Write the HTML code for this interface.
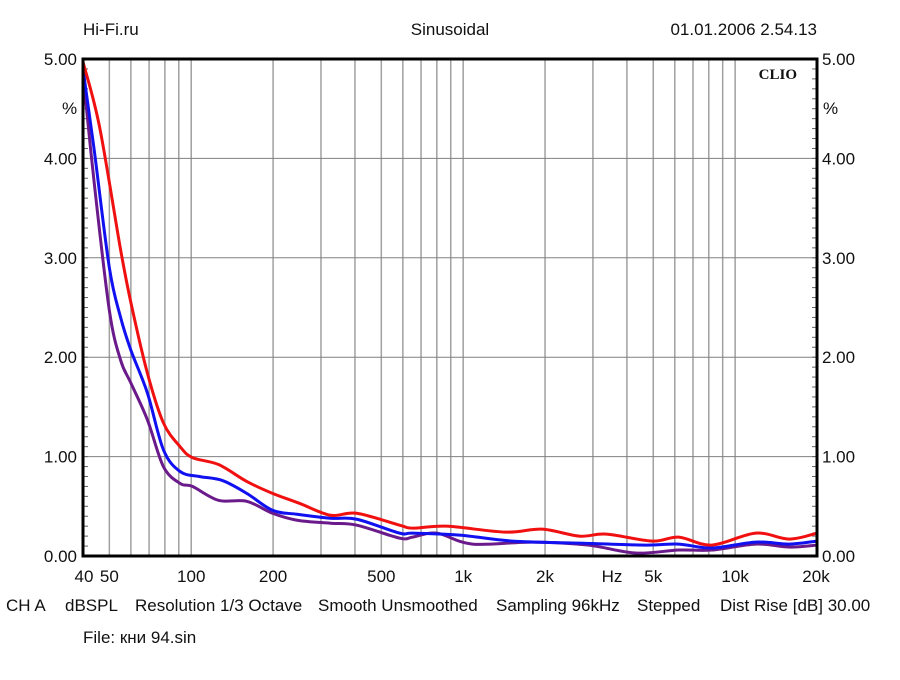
<!DOCTYPE html>
<html><head><meta charset="utf-8"><style>
body{margin:0;background:#fff;}
svg text{font-family:"Liberation Sans",sans-serif;font-size:17px;fill:#111;}
</style></head><body>
<svg id="chart" width="900" height="675" xmlns="http://www.w3.org/2000/svg">
<rect width="900" height="675" fill="#fff"/>
<g id="grid"></g>
<g id="curves"></g>
<rect x="83" y="59" width="734" height="497" fill="none" stroke="#000" stroke-width="3"/>
<g id="labels"></g>
<text x="83" y="35">Hi-Fi.ru</text>
<text x="450" y="35" text-anchor="middle">Sinusoidal</text>
<text x="817" y="35" text-anchor="end">01.01.2006 2.54.13</text>
<text x="797" y="79" text-anchor="end" style="font-family:'Liberation Serif',serif;font-weight:bold;font-size:15px">CLIO</text>
<text x="62" y="114">%</text>
<text x="823" y="114">%</text>
<text x="612" y="582" text-anchor="middle">Hz</text>
<text x="6" y="611">CH A</text>
<text x="65" y="611">dBSPL</text>
<text x="135" y="611">Resolution 1/3 Octave</text>
<text x="318" y="611">Smooth Unsmoothed</text>
<text x="496" y="611">Sampling 96kHz</text>
<text x="637" y="611">Stepped</text>
<text x="720" y="611">Dist Rise [dB] 30.00</text>
<text x="83" y="643">File: кни 94.sin</text>
</svg>
<script>
const yTicks=[0,1,2,3,4,5];
const yTickLabels=["0.00","1.00","2.00","3.00","4.00","5.00"];
const xTicks=[40,50,100,200,500,1000,2000,5000,10000,20000];
const xTickLabels=["40","50","100","200","500","1k","2k","5k","10k","20k"];
const redFreq=[40,46,55,60,69,79,91,101,126,160,199,250,325,406,584,652,867,1430,1950,2670,3360,4960,6200,8200,11900,15800,20000];
const redVal=[4.97,4.32,3.08,2.55,1.84,1.34,1.10,0.99,0.92,0.75,0.63,0.53,0.41,0.43,0.31,0.28,0.30,0.24,0.27,0.20,0.22,0.15,0.19,0.11,0.23,0.17,0.23];
const blueFreq=[40,44,50,55,60,69,79,91,107,130,160,199,245,325,406,584,652,970,1520,2670,4700,6200,8200,11900,15800,20000];
const blueVal=[4.9,4.08,2.9,2.4,2.07,1.64,1.07,0.85,0.80,0.76,0.63,0.46,0.42,0.38,0.37,0.23,0.23,0.21,0.15,0.13,0.11,0.12,0.08,0.14,0.12,0.15];
const purpleFreq=[40,44,50,55,60,69,79,91,101,126,160,199,245,325,406,584,652,800,1080,1800,2870,4300,6200,8200,11900,15800,20000];
const purpleVal=[4.85,3.75,2.47,1.97,1.74,1.37,0.90,0.73,0.70,0.56,0.55,0.43,0.36,0.33,0.31,0.18,0.19,0.23,0.12,0.14,0.11,0.03,0.06,0.06,0.12,0.09,0.11];

const X0=83,X1=817,Y0=556,Y1=59;
function xs(f){return X0+(X1-X0)*Math.log10(f/40)/Math.log10(20000/40);}
function ys(v){return Y0-(Y0-Y1)*v/5;}
const NS="http://www.w3.org/2000/svg";
function mk(tag,attrs,parent){const e=document.createElementNS(NS,tag);for(const k in attrs)e.setAttribute(k,attrs[k]);parent.appendChild(e);return e;}
const grid=document.getElementById('grid');
for(let d=10;d<=10000;d*=10){for(let m=1;m<10;m++){const f=d*m;if(f<=40||f>=20000)continue;
 const l=mk('line',{x1:xs(f),x2:xs(f),y1:Y1,y2:Y0,stroke:'#a0a0a0','stroke-width':1.5},grid);
 
 }}
for(let i=1;i<5;i++){const l=mk('line',{x1:X0,x2:X1,y1:ys(yTicks[i]),y2:ys(yTicks[i]),stroke:'#808080','stroke-width':1},grid);
 
 }
for(let i=1;i<50;i++){const v=i/10;
 const a=mk('line',{x1:X0,x2:X0+5,y1:ys(v),y2:ys(v),stroke:'#666','stroke-width':1},grid);
 
 
 const b=mk('line',{x1:X1-5,x2:X1,y1:ys(v),y2:ys(v),stroke:'#666','stroke-width':1},grid);
 
 }
const lab=document.getElementById('labels');
yTicks.forEach((v,i)=>{
 const t=mk('text',{x:77,y:ys(v)+6,'text-anchor':'end'},lab);t.textContent=yTickLabels[i];
 
 
 const r=mk('text',{x:822,y:ys(v)+6},lab);r.textContent=yTickLabels[i];
 
 });
xTicks.forEach((f,i)=>{
 let x=xs(f);if(i==0)x+=1;if(i==xTicks.length-1)x-=1;
 const t=mk('text',{x:x,y:582,'text-anchor':'middle'},lab);t.textContent=xTickLabels[i];
 
 });
function path(fr,vals){const p=fr.map((f,i)=>[xs(f),ys(vals[i])]);let d='M'+p[0][0]+','+p[0][1];
 for(let i=0;i<p.length-1;i++){const a=p[i-1]||p[i],b=p[i],c=p[i+1],e=p[i+2]||c;
  const c1=[b[0]+(c[0]-a[0])/6,b[1]+(c[1]-a[1])/6],c2=[c[0]-(e[0]-b[0])/6,c[1]-(e[1]-b[1])/6];
  d+=' C'+c1+' '+c2+' '+c;}return d;}
const cv=document.getElementById('curves');
[[purpleFreq,purpleVal,'#6a1a8a','purple-series'],[blueFreq,blueVal,'#1010f0','blue-series'],[redFreq,redVal,'#f01010','red-series']].forEach(s=>{
 const p=mk('path',{d:path(s[0],s[1]),fill:'none',stroke:s[2],'stroke-width':3,'stroke-linejoin':'round'},cv);
 
 });
</script>
</body></html>
